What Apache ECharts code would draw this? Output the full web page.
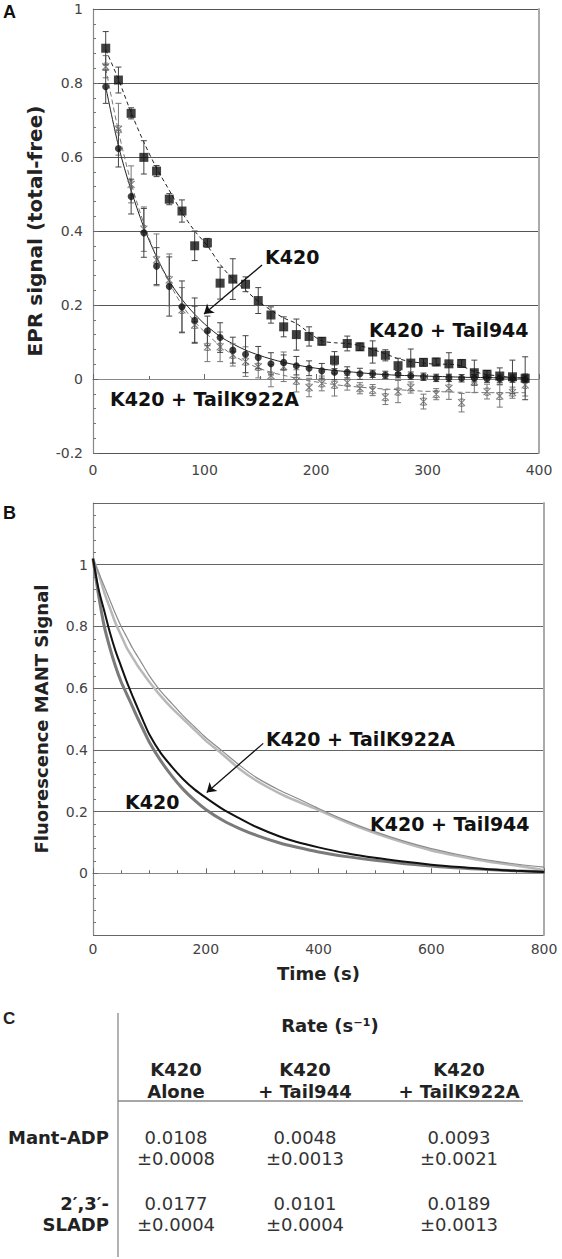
<!DOCTYPE html>
<html>
<head>
<meta charset="utf-8">
<script src="https://cdn.jsdelivr.net/npm/echarts@6/dist/echarts.min.js"></script>
<style>
html,body{margin:0;padding:0;background:#fff;}
#chart{width:562px;height:1259px;}
</style>
</head>
<body>
<div id="chart"></div>
<script>
// ---------- Panel A data (EPR) ----------
const timeA = [11.4, 22.8, 34.2, 45.6, 57, 68.4, 79.8, 91.2, 102.6, 114, 125.4, 136.8, 148.2, 159.6, 171, 182.4, 193.8, 205.2, 216.6, 228, 239.4, 250.8, 262.2, 273.6, 285, 296.4, 307.8, 319.2, 330.6, 342, 353.4, 364.8, 376.2, 387.6];
const tail944A = [0.894,0.808,0.718,0.599,0.562,0.486,0.454,0.360,0.368,0.259,0.270,0.256,0.212,0.173,0.141,0.120,0.115,0.102,0.051,0.096,0.087,0.073,0.064,0.036,0.043,0.045,0.046,0.041,0.042,0.017,0.013,0.008,0.006,0.002];
const tail944ErrA = [0.045,0.035,0.015,0.045,0.015,0.015,0.03,0.04,0.012,0.043,0.055,0.02,0.035,0.022,0.027,0.042,0.026,0.01,0.023,0.02,0.01,0.03,0.015,0.02,0.038,0.01,0.01,0.03,0.01,0.034,0.01,0.022,0.045,0.058];
const k420A = [0.790,0.623,0.493,0.395,0.305,0.250,0.195,0.159,0.130,0.112,0.078,0.067,0.058,0.041,0.045,0.036,0.029,0.022,0.018,0.018,0.014,0.014,0.011,0.013,0.009,0.006,0.003,0.003,0.002,0.002,0.001,0.001,0.001,0.000];
const k420ErrA = [0.045,0.05,0.047,0.066,0.05,0.08,0.07,0.06,0.04,0.04,0.035,0.05,0.03,0.03,0.02,0.025,0.02,0.02,0.02,0.015,0.015,0.01,0.01,0.01,0.01,0.01,0.01,0.01,0.01,0.01,0.01,0.01,0.01,0.01];
const k922A = [0.844,0.675,0.526,0.405,0.322,0.268,0.187,0.146,0.087,0.087,0.065,0.047,0.033,0.009,0.033,-0.005,-0.023,-0.012,-0.016,-0.010,-0.025,-0.030,-0.049,-0.034,-0.023,-0.061,-0.041,-0.025,-0.064,-0.007,-0.034,-0.046,-0.037,-0.016];
const k922ErrA = [0.03,0.07,0.05,0.06,0.07,0.07,0.06,0.05,0.04,0.04,0.03,0.04,0.03,0.03,0.04,0.03,0.025,0.02,0.03,0.02,0.015,0.015,0.02,0.03,0.015,0.02,0.015,0.03,0.025,0.03,0.02,0.03,0.015,0.03];
const tail944FitA = [0.89,0.81,0.72,0.64,0.57,0.51,0.45,0.40,0.36,0.31,0.27,0.24,0.21,0.186,0.165,0.15,0.125,0.103,0.098,0.096,0.09,0.08,0.068,0.055,0.047,0.043,0.04,0.04,0.035,0.02,0.012,0.008,0.004,0.002];
const k420FitA = [0.79,0.63,0.51,0.41,0.33,0.265,0.215,0.175,0.142,0.115,0.095,0.078,0.065,0.054,0.045,0.038,0.032,0.027,0.023,0.02,0.017,0.014,0.012,0.01,0.009,0.008,0.007,0.006,0.005,0.004,0.004,0.003,0.003,0.003];
const k922FitA = [0.84,0.67,0.53,0.42,0.33,0.26,0.2,0.155,0.12,0.09,0.065,0.045,0.03,0.018,0.01,0.002,-0.005,-0.01,-0.015,-0.019,-0.022,-0.025,-0.027,-0.029,-0.031,-0.033,-0.034,-0.035,-0.036,-0.036,-0.037,-0.037,-0.037,-0.037];

// ---------- Panel B data (MANT fluorescence) ----------
const timeB = [0,10,20,30,40,50,60,70,80,90,100,120,140,160,180,200,230,260,290,330,360,400,450,500,550,600,650,700,750,800];
const k420B = [1.02,0.90,0.80,0.73,0.67,0.62,0.58,0.54,0.50,0.462,0.425,0.365,0.315,0.272,0.237,0.207,0.172,0.145,0.123,0.099,0.085,0.069,0.054,0.042,0.032,0.024,0.017,0.012,0.008,0.005];
const k922B = [1.02,0.92,0.85,0.78,0.72,0.67,0.62,0.575,0.532,0.49,0.45,0.39,0.345,0.305,0.272,0.245,0.208,0.178,0.15,0.12,0.102,0.084,0.065,0.05,0.038,0.028,0.02,0.013,0.008,0.004];
const tail944B = [1.02,0.97,0.91,0.86,0.81,0.77,0.73,0.70,0.67,0.645,0.62,0.575,0.535,0.50,0.465,0.43,0.385,0.338,0.30,0.26,0.235,0.205,0.165,0.13,0.10,0.074,0.055,0.038,0.025,0.01];
const tail944FitB = [1.02,0.975,0.93,0.885,0.84,0.80,0.765,0.73,0.70,0.67,0.64,0.59,0.55,0.51,0.475,0.44,0.395,0.35,0.31,0.27,0.245,0.21,0.17,0.135,0.105,0.08,0.06,0.043,0.03,0.02];

// ---------- Panel C table ----------
const rowLabels = [["Mant-ADP"], ["2\u2032,3\u2032-", "SLADP"]];
const colHeaders = [["K420", "Alone"], ["K420", "+ Tail944"], ["K420", "+ TailK922A"]];
const rateValues = [["0.0108", "0.0048", "0.0093"], ["0.0177", "0.0101", "0.0189"]];
const rateErrors = [["\u00b10.0008", "\u00b10.0013", "\u00b10.0021"], ["\u00b10.0004", "\u00b10.0004", "\u00b10.0013"]];

const FONT = 'DejaVu Sans';
const pairs = (xs, ys) => xs.map((x, i) => [x, ys[i]]);
const triples = (xs, ys, es) => xs.map((x, i) => [x, ys[i], es[i]]);

function errSeries(vals, errs, color) {
  return {
    type: 'custom', xAxisIndex: 0, yAxisIndex: 0, silent: true, z: 2,
    data: triples(timeA, vals, errs),
    renderItem: function (params, api) {
      const x = api.value(0), y = api.value(1), e = api.value(2);
      const t = api.coord([x, y + e]), b = api.coord([x, y - e]);
      const w = 3, st = { stroke: color, lineWidth: 1 };
      return { type: 'group', children: [
        { type: 'line', shape: { x1: t[0], y1: t[1], x2: b[0], y2: b[1] }, style: st },
        { type: 'line', shape: { x1: t[0] - w, y1: t[1], x2: t[0] + w, y2: t[1] }, style: st },
        { type: 'line', shape: { x1: b[0] - w, y1: b[1], x2: b[0] + w, y2: b[1] }, style: st }
      ]};
    }
  };
}

const axisLabelStyle = { color: '#444', fontFamily: FONT, fontSize: 14 };
const nameStyleA = { color: '#222', fontFamily: FONT, fontSize: 20, fontWeight: 'bold' };
const nameStyleB = { color: '#222', fontFamily: FONT, fontSize: 18, fontWeight: 'bold' };

const grids = [
  { left: 93, top: 9, width: 446, height: 444 },
  { left: 93, top: 503, width: 451, height: 432 }
];

const xAxes = [
  { gridIndex: 0, type: 'value', min: 0, max: 400, interval: 100,
    axisLine: { lineStyle: { color: '#888', width: 1.2 } },
    axisTick: { inside: true, length: 5, lineStyle: { color: '#666' } },
    minorTick: { show: true, splitNumber: 2, length: 3, lineStyle: { color: '#666' } },
    axisLabel: Object.assign({ margin: 10 }, axisLabelStyle),
    splitLine: { show: false } },
  { gridIndex: 1, type: 'value', min: 0, max: 800, interval: 200,
    name: 'Time (s)', nameLocation: 'middle', nameGap: 29, nameTextStyle: nameStyleB,
    axisLine: { lineStyle: { color: '#888', width: 1.2 } },
    axisTick: { inside: true, length: 5, lineStyle: { color: '#666' } },
    minorTick: { show: true, splitNumber: 4, length: 3, lineStyle: { color: '#666' } },
    axisLabel: Object.assign({ margin: 7 }, axisLabelStyle),
    splitLine: { show: false } }
];

const yAxes = [
  { gridIndex: 0, type: 'value', min: -0.2, max: 1, interval: 0.2,
    name: 'EPR signal (total-free)', nameLocation: 'middle', nameGap: 42, nameTextStyle: nameStyleA,
    axisLine: { lineStyle: { color: '#888', width: 1.2 } },
    axisTick: { inside: true, length: 5, lineStyle: { color: '#666' } },
    minorTick: { show: true, splitNumber: 5, length: 3, lineStyle: { color: '#777' } },
    axisLabel: Object.assign({ margin: 10 }, axisLabelStyle),
    splitLine: { show: true, lineStyle: { color: '#555', width: 1 } } },
  { gridIndex: 0, type: 'value', min: -0.2, max: 1, interval: 0.2, position: 'right',
    axisLine: { show: true, lineStyle: { color: '#aaa', width: 2 } },
    axisTick: { show: false }, axisLabel: { show: false }, splitLine: { show: false } },
  { gridIndex: 1, type: 'value', min: -0.2, max: 1.2, interval: 0.2,
    name: 'Fluorescence MANT Signal', nameLocation: 'middle', nameGap: 43, nameTextStyle: nameStyleB,
    axisLine: { lineStyle: { color: '#888', width: 1.2 } },
    axisTick: { inside: true, length: 5, lineStyle: { color: '#666' } },
    minorTick: { show: true, splitNumber: 5, length: 3, lineStyle: { color: '#777' } },
    axisLabel: Object.assign({ margin: 5,
      formatter: v => (v < -0.1 || v > 1.1) ? '' : String(+v.toFixed(1)) }, axisLabelStyle),
    splitLine: { show: true, lineStyle: { color: ['#666', '#aaa', '#666', '#666', '#666', '#666', '#666', '#666'], width: 1 } } },
  { gridIndex: 1, type: 'value', min: -0.2, max: 1.2, interval: 0.2, position: 'right',
    axisLine: { show: true, lineStyle: { color: '#aaa', width: 2 } },
    axisTick: { show: false }, axisLabel: { show: false }, splitLine: { show: false } }
];

const lineB = (ys, color, width, z, extra) => Object.assign({
  type: 'line', xAxisIndex: 1, yAxisIndex: 2, data: pairs(timeB, ys), smooth: 0.3,
  showSymbol: false, silent: true, lineStyle: { color: color, width: width }, z: z }, extra || {});

const series = [
  // Panel A fit lines
  { type: 'line', xAxisIndex: 0, yAxisIndex: 0, data: pairs(timeA, tail944FitA), smooth: 0.3, showSymbol: false, silent: true,
    lineStyle: { color: '#222', width: 1, type: [4, 3] }, z: 1 },
  { type: 'line', xAxisIndex: 0, yAxisIndex: 0, data: pairs(timeA, k420FitA), smooth: 0.3, showSymbol: false, silent: true,
    lineStyle: { color: '#222', width: 1 }, z: 1,
    markLine: { silent: true, symbol: ['none', 'arrow'], symbolSize: 9, animation: false,
      lineStyle: { color: '#111', width: 1.3, type: 'solid' }, label: { show: false },
      data: [[{ coord: [151.6, 0.308] }, { coord: [99.6, 0.176] }]] } },
  { type: 'line', xAxisIndex: 0, yAxisIndex: 0, data: pairs(timeA, k922FitA), smooth: 0.3, showSymbol: false, silent: true,
    lineStyle: { color: '#777', width: 1, type: [5, 3] }, z: 1 },
  // Panel A error bars
  errSeries(k922A, k922ErrA, '#777'),
  errSeries(k420A, k420ErrA, '#444'),
  errSeries(tail944A, tail944ErrA, '#444'),
  // Panel A markers
  { type: 'scatter', xAxisIndex: 0, yAxisIndex: 0, data: pairs(timeA, k922A), symbol: 'path://M0,0L10,10M10,0L0,10M2,0L8,0M2,10L8,10',
    symbolSize: 7, itemStyle: { color: 'rgba(0,0,0,0)', borderColor: '#666', borderWidth: 1.2 }, z: 3, silent: true },
  { type: 'scatter', xAxisIndex: 0, yAxisIndex: 0, data: pairs(timeA, k420A), symbol: 'circle', symbolSize: 7,
    itemStyle: { color: '#111' }, z: 4, silent: true },
  { type: 'scatter', xAxisIndex: 0, yAxisIndex: 0, data: pairs(timeA, tail944A), symbol: 'rect', symbolSize: 9,
    itemStyle: { color: '#111' }, z: 4, silent: true },
  // Panel B curves
  lineB(tail944B, '#b8b8b8', 2.5, 2),
  lineB(tail944FitB, '#8c8c8c', 1.2, 2),
  lineB(k420B, '#7a7a7a', 3, 3),
  lineB(k922B, '#111', 2, 4, {
    markLine: { silent: true, symbol: ['none', 'arrow'], symbolSize: 9, animation: false,
      lineStyle: { color: '#111', width: 1.3, type: 'solid' }, label: { show: false },
      data: [[{ coord: [302, 0.421] }, { coord: [201.7, 0.262] }]] } })
];

// Graphic elements: panel letters, annotations, table
const g = [];
function txt(text, x, y, opts) {
  g.push({ type: 'text', x: x, y: y, silent: true, z: 10,
    style: Object.assign({ text: text, font: '17px ' + FONT, fill: '#222', align: 'left', verticalAlign: 'middle' }, opts || {}) });
}
const bold19 = 'bold 19px "DejaVu Sans"';
const bold18 = 'bold 18px "DejaVu Sans"';
const reg18 = '18px "DejaVu Sans"';
txt('A', 3, 12, { font: 'bold 18px "Liberation Sans"', fill: '#111' });
txt('B', 3, 513, { font: 'bold 18px "Liberation Sans"', fill: '#111' });
txt('C', 3, 1018, { font: 'bold 17px "Liberation Sans"', fill: '#222' });
// Panel A annotations
txt('K420', 265, 257, { font: bold19, fill: '#111' });
txt('K420 + Tail944', 369, 330, { font: bold19, fill: '#111' });
txt('K420 + TailK922A', 110, 399, { font: bold19, fill: '#111' });
// Panel B annotations
txt('K420 + TailK922A', 266, 739, { font: bold19, fill: '#111' });
txt('K420 + Tail944', 370, 824, { font: bold19, fill: '#111' });
txt('K420', 125, 802, { font: bold19, fill: '#111' });
// Table
g.push({ type: 'line', silent: true, shape: { x1: 118, y1: 1013, x2: 118, y2: 1257 }, style: { stroke: '#999', lineWidth: 1.5 } });
g.push({ type: 'line', silent: true, shape: { x1: 118, y1: 1101, x2: 523, y2: 1101 }, style: { stroke: '#888', lineWidth: 1.5 } });
txt('Rate (s\u207B\u00B9)', 330, 1025, { font: bold18, fill: '#222', align: 'center' });
const colX = [176, 305, 459];
colHeaders.forEach((h, c) => {
  txt(h[0], colX[c], 1069, { font: bold18, fill: '#222', align: 'center' });
  txt(h[1], colX[c], 1091, { font: bold18, fill: '#222', align: 'center' });
});
const rowY = [1137, 1203];
rowLabels.forEach((r, i) => {
  r.forEach((s, k) => txt(s, 109, rowY[i] + k * 21, { font: bold18, fill: '#222', align: 'right' }));
  rateValues[i].forEach((v, c) => {
    txt(v, colX[c], rowY[i], { font: reg18, fill: '#333', align: 'center' });
    txt(rateErrors[i][c], colX[c], rowY[i] + 21, { font: reg18, fill: '#333', align: 'center' });
  });
});

const chart = echarts.init(document.getElementById('chart'), null, { renderer: 'svg' });
chart.setOption({
  animation: false,
  backgroundColor: '#fff',
  textStyle: { fontFamily: FONT },
  grid: grids,
  xAxis: xAxes,
  yAxis: yAxes,
  series: series,
  graphic: g
});
</script>
</body>
</html>
